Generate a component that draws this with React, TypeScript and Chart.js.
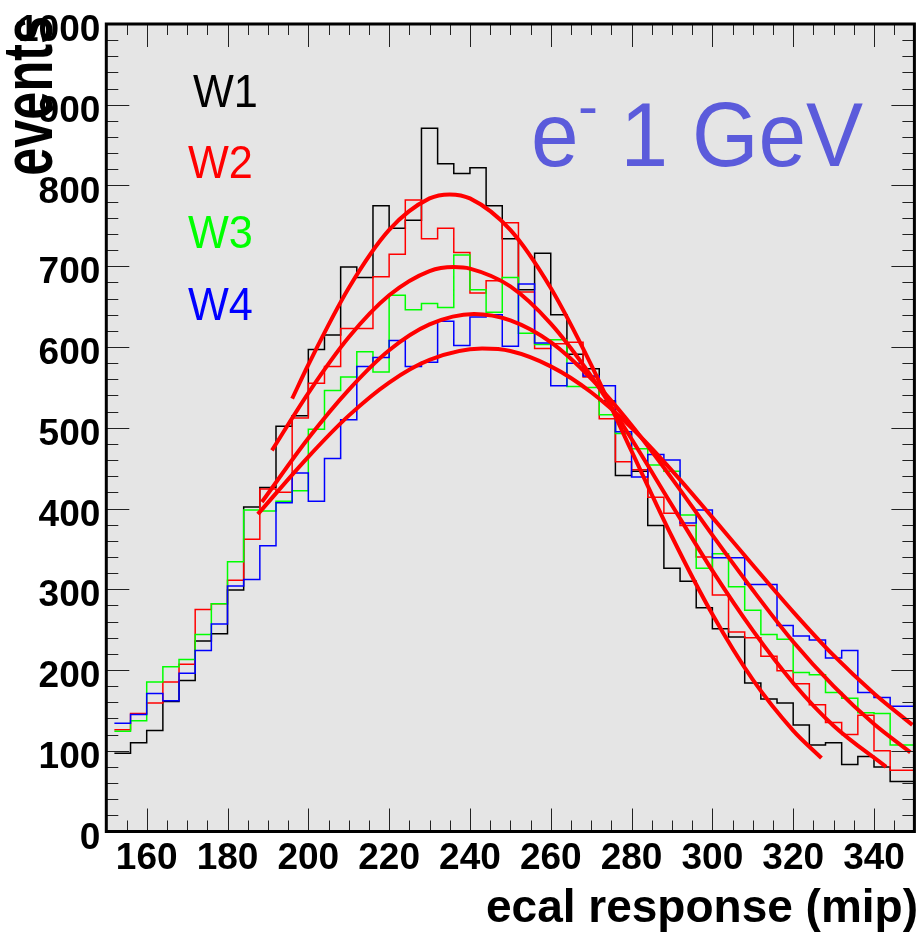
import { useEffect, useRef } from "react";
import { Chart, registerables } from "chart.js";

Chart.register(...registerables);

// ---------------- data ----------------
// left edges of the 4-mip bins (last bin is cut at the frame edge, 350)
const binEdges = [
  152, 156, 160, 164, 168, 172, 176, 180, 184, 188,
  192, 196, 200, 204, 208, 212, 216, 220, 224, 228,
  232, 236, 240, 244, 248, 252, 256, 260, 264, 268,
  272, 276, 280, 284, 288, 292, 296, 300, 304, 308,
  312, 316, 320, 324, 328, 332, 336, 340, 344,
];
const binEnd = 350;

const w1 = [
  97, 110, 125, 161, 187, 236, 245, 299, 402, 426,
  502, 515, 597, 615, 699, 686, 775, 747, 757, 871,
  827, 815, 822, 775, 734, 671, 716, 640, 591, 573,
  533, 441, 446, 379, 326, 310, 277, 251, 241, 184,
  164, 159, 132, 107, 110, 83, 93, 80, 62,
];
const w2 = [
  126, 146, 159, 185, 207, 275, 282, 311, 362, 424,
  420, 512, 555, 576, 623, 623, 687, 715, 782, 734,
  747, 717, 667, 682, 754, 668, 598, 604, 606, 563,
  511, 458, 448, 414, 394, 379, 340, 293, 247, 240,
  217, 199, 183, 157, 135, 120, 144, 100, 76,
];
const w3 = [
  124, 137, 185, 204, 213, 244, 282, 334, 398, 397,
  409, 422, 498, 546, 563, 594, 569, 664, 646, 654,
  649, 714, 671, 643, 686, 617, 603, 609, 551, 550,
  516, 493, 474, 454, 446, 392, 326, 344, 303, 274,
  244, 238, 197, 194, 172, 165, 147, 146, 107,
];
const w4 = [
  134, 145, 171, 162, 196, 224, 257, 304, 312, 354,
  407, 444, 409, 462, 510, 576, 587, 608, 576, 581,
  632, 602, 637, 640, 601, 678, 605, 552, 580, 564,
  552, 495, 439, 467, 460, 382, 398, 339, 339, 306,
  306, 255, 242, 237, 215, 224, 172, 166, 155,
];

// fitted curves
const fit1X = [196, 200, 210, 220, 230, 235, 240, 250, 260, 270, 280, 290, 300, 310, 320, 327];
const fit1Y = [536, 578, 673, 745, 784, 789, 784, 745, 673, 578, 471, 365, 269, 188, 125, 91];
const fit2X = [191, 200, 210, 220, 230, 236, 240, 250, 260, 270, 280, 290, 300, 310, 320, 330, 343];
const fit2Y = [472, 543, 612, 664, 694, 699, 697, 675, 629, 564, 486, 404, 323, 249, 184, 131, 80];
const fit3X = [188.5, 200, 210, 220, 230, 241, 250, 260, 270, 280, 290, 300, 310, 320, 330, 340, 349];
const fit3Y = [408, 487, 547, 596, 628, 641, 633, 606, 561, 503, 437, 367, 299, 235, 180, 133, 98];
const fit4X = [187.5, 200, 210, 220, 230, 243, 250, 260, 270, 280, 290, 300, 310, 320, 330, 340, 349.5];
const fit4Y = [393, 464, 515, 556, 584, 598, 595, 576, 544, 500, 447, 389, 330, 272, 218, 171, 132];

const seriesNames = ["W1", "W2", "W3", "W4"];
const seriesColors = ["#000000", "#ff0000", "#00ff00", "#0000ff"];

const xTickLabels = [160, 180, 200, 220, 240, 260, 280, 300, 320, 340];
const yTickLabels = [0, 100, 200, 300, 400, 500, 600, 700, 800, 900, 1000];

const xTitle = "ecal response (mip)";
const yTitle = "events";

// ---------------- helpers ----------------
function histPoints(values: number[]) {
  const pts = binEdges.map((x, i) => ({ x, y: values[i] }));
  pts.push({ x: binEnd, y: values[values.length - 1] });
  return pts;
}
function curvePoints(xs: number[], ys: number[]) {
  return xs.map((x, i) => ({ x, y: ys[i] }));
}

function drawText(
  ctx: CanvasRenderingContext2D,
  text: string,
  x: number,
  y: number,
  font: string,
  color: string,
  align: CanvasTextAlign,
  sx = 1,
  rotate = 0
) {
  ctx.save();
  ctx.translate(x, y);
  if (rotate) ctx.rotate(rotate);
  ctx.scale(sx, 1);
  ctx.font = font;
  ctx.fillStyle = color;
  ctx.textAlign = align;
  ctx.textBaseline = "alphabetic";
  ctx.fillText(text, 0, 0);
  ctx.restore();
}

const FONT = '"Liberation Sans", Arial, Helvetica, sans-serif';

const framePlugin = {
  id: "rootFrame",
  beforeDatasetsDraw(chart: any) {
    const { ctx, chartArea: a } = chart;
    ctx.save();
    ctx.fillStyle = "#e5e5e5";
    ctx.fillRect(a.left, a.top, a.right - a.left, a.bottom - a.top);
    ctx.restore();
  },
  afterDatasetsDraw(chart: any) {
    const { ctx, chartArea: a } = chart;
    const xs = chart.scales.x;
    const ys = chart.scales.y;
    ctx.save();
    ctx.strokeStyle = "#222";
    ctx.lineWidth = 1;
    ctx.beginPath();
    for (let v = xs.min; v <= xs.max + 1e-6; v += 5) {
      const major = xTickLabels.includes(v);
      const len = major ? 23 : 11;
      const px = Math.round(xs.getPixelForValue(v)) + 0.5;
      ctx.moveTo(px, a.bottom);
      ctx.lineTo(px, a.bottom - len);
      ctx.moveTo(px, a.top);
      ctx.lineTo(px, a.top + len);
    }
    for (let v = ys.min; v <= ys.max + 1e-6; v += 20) {
      const major = yTickLabels.includes(v);
      const len = major ? 23 : 12;
      const py = Math.round(ys.getPixelForValue(v)) + 0.5;
      ctx.moveTo(a.left, py);
      ctx.lineTo(a.left + len, py);
      ctx.moveTo(a.right, py);
      ctx.lineTo(a.right - len, py);
    }
    ctx.stroke();
    ctx.lineWidth = 3;
    ctx.strokeStyle = "#000";
    ctx.strokeRect(a.left, a.top, a.right - a.left, a.bottom - a.top);
    ctx.restore();
  },
  afterDraw(chart: any) {
    const { ctx, chartArea: a } = chart;
    const xs = chart.scales.x;
    const ys = chart.scales.y;
    // tick labels
    xTickLabels.forEach((v) => {
      drawText(ctx, String(v), xs.getPixelForValue(v), a.bottom + 37, `bold 37px ${FONT}`, "#000", "center");
    });
    yTickLabels.forEach((v) => {
      drawText(ctx, String(v), a.left - 6, ys.getPixelForValue(v) + 17, `bold 37px ${FONT}`, "#000", "right");
    });
    // axis titles
    drawText(ctx, xTitle, 918, 922, `bold 46px ${FONT}`, "#000", "right", 1.0);
    drawText(ctx, yTitle, 52, 16, `bold 70px ${FONT}`, "#000", "right", 0.72, -Math.PI / 2);
    // legend labels
    const lx = [193, 188, 188, 188];
    const ly = [107, 178, 248, 320];
    seriesNames.forEach((n, i) => {
      drawText(ctx, n, lx[i], ly[i], `46px ${FONT}`, seriesColors[i], "left", 0.94);
    });
    // e- 1 GeV
    const c = "#5b5bdb";
    drawText(ctx, "e", 531, 166, `90px ${FONT}`, c, "left", 0.95);
    drawText(ctx, "-", 578, 126, `60px ${FONT}`, c, "left", 1);
    drawText(ctx, "1 GeV", 863, 166, `90px ${FONT}`, c, "right", 0.95);
  },
};

export default function App() {
  const ref = useRef<HTMLCanvasElement | null>(null);
  useEffect(() => {
    if (!ref.current) return;
    const histSets = [w1, w2, w3, w4].map((vals, i) => ({
      label: seriesNames[i],
      data: histPoints(vals),
      borderColor: seriesColors[i],
      borderWidth: 1.5,
      stepped: true as const,
      pointRadius: 0,
      fill: false,
      order: 4 - i,
    }));
    const fits = [
      [fit1X, fit1Y],
      [fit2X, fit2Y],
      [fit3X, fit3Y],
      [fit4X, fit4Y],
    ].map(([xs, ys], i) => ({
      label: "fit " + seriesNames[i],
      data: curvePoints(xs, ys),
      borderColor: "#ff0000",
      borderWidth: 4,
      pointRadius: 0,
      fill: false,
      cubicInterpolationMode: "monotone" as const,
      borderCapStyle: "butt" as const,
      order: 0,
    }));
    const chart = new Chart(ref.current, {
      type: "line",
      data: { datasets: [...fits, ...histSets] as any },
      options: {
        animation: false,
        responsive: false,
        devicePixelRatio: 1,
        parsing: false as any,
        layout: { padding: { left: 106.3, top: 24, right: 6.6, bottom: 108.5 } },
        scales: {
          x: { type: "linear", min: 150, max: 350, display: false },
          y: { type: "linear", min: 0, max: 1000, display: false },
        },
        plugins: {
          legend: { display: false },
          tooltip: { enabled: false },
          title: { display: false },
        },
      },
      plugins: [framePlugin],
    });
    return () => chart.destroy();
  }, []);
  return (
    <div style={{ position: "absolute", left: 0, top: 0, width: 921, height: 940 }}>
      <canvas ref={ref} width={921} height={940} style={{ display: "block" }} />
    </div>
  );
}
